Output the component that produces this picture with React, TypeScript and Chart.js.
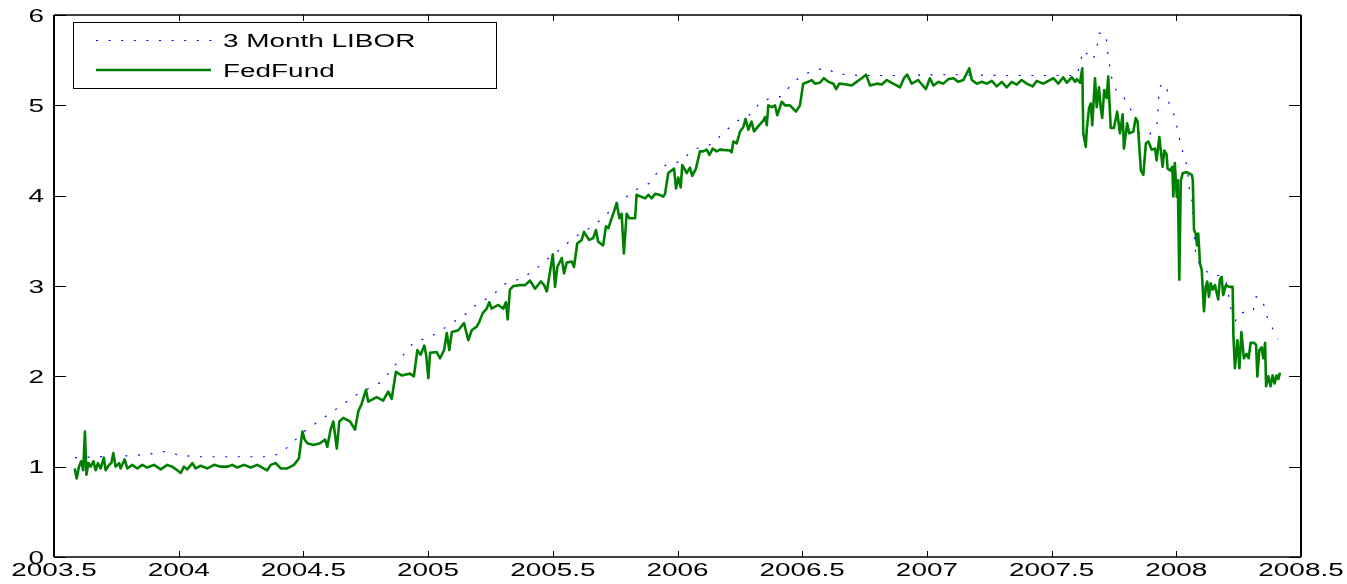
import React, { useEffect, useRef } from "react";
import { Chart, registerables } from "chart.js";

Chart.register(...registerables);

// ---------- data ----------
const seriesNames = ["3 Month LIBOR", "FedFund"];

const liborDates = [
  2003.584, 2003.684, 2003.805, 2003.885, 2003.925, 2003.949, 2003.997, 2004.065, 2004.206, 2004.346,
  2004.406, 2004.454, 2004.498, 2004.607, 2004.715, 2004.807, 2004.847, 2004.907, 2004.947, 2004.996,
  2005.036, 2005.096, 2005.156, 2005.196, 2005.256, 2005.304, 2005.381, 2005.437, 2005.489, 2005.541,
  2005.581, 2005.641, 2005.701, 2005.729, 2005.777, 2005.822, 2005.890, 2005.922, 2005.954, 2006.014,
  2006.062, 2006.138, 2006.182, 2006.235, 2006.299, 2006.335, 2006.419, 2006.459, 2006.503, 2006.571,
  2006.603, 2006.632, 2006.732, 2006.892, 2007.093, 2007.293, 2007.453, 2007.602, 2007.622, 2007.626,
  2007.646, 2007.666, 2007.682, 2007.690, 2007.718, 2007.726, 2007.738, 2007.758, 2007.782, 2007.814,
  2007.842, 2007.854, 2007.891, 2007.923, 2007.927, 2007.931, 2007.947, 2007.963, 2007.971, 2007.995,
  2008.011, 2008.027, 2008.043, 2008.051, 2008.063, 2008.071, 2008.079, 2008.103, 2008.147, 2008.175,
  2008.199, 2008.215, 2008.231, 2008.247, 2008.308, 2008.320, 2008.344, 2008.368, 2008.396, 2008.408,
];
const liborValues = [
  1.10, 1.11, 1.12, 1.14, 1.16, 1.17, 1.13, 1.11, 1.11, 1.11,
  1.14, 1.26, 1.38, 1.59, 1.80, 1.93, 2.05, 2.26, 2.39, 2.42,
  2.48, 2.59, 2.70, 2.80, 2.89, 3.02, 3.09, 3.20, 3.32, 3.43,
  3.53, 3.63, 3.75, 3.83, 3.94, 4.05, 4.14, 4.27, 4.34, 4.38,
  4.51, 4.57, 4.69, 4.82, 4.91, 5.05, 5.10, 5.24, 5.34, 5.40,
  5.41, 5.35, 5.33, 5.33, 5.34, 5.33, 5.33, 5.33, 5.55, 5.61,
  5.56, 5.50, 5.65, 5.80, 5.79, 5.56, 5.33, 5.17, 5.12, 4.98,
  4.76, 4.68, 4.67, 4.80, 4.96, 5.19, 5.25, 5.18, 5.02, 4.87,
  4.65, 4.47, 4.33, 4.10, 3.94, 3.59, 3.32, 3.20, 3.11, 3.12,
  3.06, 2.82, 2.55, 2.70, 2.72, 2.88, 2.86, 2.62, 2.48, 2.41,
];

const fedDates = [
  2003.583, 2003.591, 2003.600, 2003.609, 2003.617, 2003.624, 2003.630, 2003.638, 2003.647, 2003.658,
  2003.667, 2003.676, 2003.687, 2003.700, 2003.707, 2003.721, 2003.730, 2003.738, 2003.747, 2003.761,
  2003.767, 2003.783, 2003.794, 2003.814, 2003.834, 2003.854, 2003.874, 2003.901, 2003.928, 2003.954,
  2003.974, 2003.994, 2004.008, 2004.021, 2004.034, 2004.055, 2004.068, 2004.088, 2004.115, 2004.142,
  2004.168, 2004.195, 2004.215, 2004.235, 2004.262, 2004.289, 2004.315, 2004.335, 2004.355, 2004.369,
  2004.389, 2004.409, 2004.435, 2004.462, 2004.482, 2004.496, 2004.505, 2004.516, 2004.540, 2004.567,
  2004.587, 2004.596, 2004.609, 2004.620, 2004.634, 2004.644, 2004.660, 2004.687, 2004.707, 2004.720,
  2004.734, 2004.751, 2004.760, 2004.794, 2004.820, 2004.840, 2004.854, 2004.871, 2004.894, 2004.927,
  2004.943, 2004.957, 2004.970, 2004.985, 2004.992, 2005.001, 2005.008, 2005.034, 2005.048, 2005.064,
  2005.075, 2005.085, 2005.095, 2005.121, 2005.144, 2005.161, 2005.175, 2005.195, 2005.205, 2005.219,
  2005.235, 2005.245, 2005.255, 2005.281, 2005.302, 2005.312, 2005.319, 2005.328, 2005.342, 2005.368,
  2005.389, 2005.409, 2005.422, 2005.429, 2005.452, 2005.465, 2005.476, 2005.489, 2005.500, 2005.509,
  2005.518, 2005.536, 2005.545, 2005.556, 2005.576, 2005.585, 2005.598, 2005.616, 2005.625, 2005.636,
  2005.646, 2005.662, 2005.673, 2005.682, 2005.702, 2005.713, 2005.723, 2005.736, 2005.745, 2005.756,
  2005.767, 2005.776, 2005.785, 2005.796, 2005.807, 2005.830, 2005.836, 2005.852, 2005.870, 2005.883,
  2005.897, 2005.910, 2005.927, 2005.943, 2005.950, 2005.963, 2005.977, 2005.986, 2005.994, 2006.003,
  2006.013, 2006.019, 2006.037, 2006.050, 2006.059, 2006.074, 2006.090, 2006.103, 2006.117, 2006.128,
  2006.141, 2006.157, 2006.170, 2006.211, 2006.217, 2006.224, 2006.237, 2006.251, 2006.264, 2006.273,
  2006.284, 2006.297, 2006.307, 2006.324, 2006.344, 2006.351, 2006.358, 2006.364, 2006.378, 2006.391,
  2006.400, 2006.418, 2006.431, 2006.451, 2006.475, 2006.491, 2006.504, 2006.524, 2006.538, 2006.551,
  2006.571, 2006.587, 2006.605, 2006.625, 2006.636, 2006.649, 2006.678, 2006.698, 2006.718, 2006.739,
  2006.756, 2006.772, 2006.799, 2006.819, 2006.839, 2006.865, 2006.892, 2006.908, 2006.921, 2006.939,
  2006.965, 2006.983, 2006.996, 2007.012, 2007.026, 2007.046, 2007.066, 2007.086, 2007.106, 2007.126,
  2007.146, 2007.170, 2007.180, 2007.200, 2007.220, 2007.240, 2007.260, 2007.280, 2007.300, 2007.320,
  2007.340, 2007.360, 2007.380, 2007.400, 2007.424, 2007.440, 2007.467, 2007.487, 2007.507, 2007.527,
  2007.547, 2007.561, 2007.581, 2007.594, 2007.601, 2007.614, 2007.623, 2007.627, 2007.637, 2007.641,
  2007.650, 2007.657, 2007.663, 2007.674, 2007.681, 2007.690, 2007.697, 2007.703, 2007.711, 2007.721,
  2007.727, 2007.737, 2007.750, 2007.763, 2007.774, 2007.785, 2007.790, 2007.803, 2007.811, 2007.828,
  2007.837, 2007.845, 2007.858, 2007.868, 2007.878, 2007.888, 2007.901, 2007.915, 2007.921, 2007.932,
  2007.945, 2007.952, 2007.961, 2007.965, 2007.975, 2007.984, 2007.988, 2007.994, 2008.002, 2008.006,
  2008.012, 2008.018, 2008.026, 2008.042, 2008.062, 2008.066, 2008.071, 2008.078, 2008.083, 2008.088,
  2008.095, 2008.102, 2008.111, 2008.118, 2008.124, 2008.131, 2008.138, 2008.146, 2008.155, 2008.168,
  2008.175, 2008.182, 2008.188, 2008.199, 2008.212, 2008.226, 2008.229, 2008.235, 2008.245, 2008.253,
  2008.261, 2008.271, 2008.282, 2008.290, 2008.298, 2008.312, 2008.320, 2008.325, 2008.333, 2008.342,
  2008.349, 2008.356, 2008.360, 2008.369, 2008.378, 2008.386, 2008.394, 2008.402, 2008.409, 2008.416,
];
const fedValues = [
  0.98, 0.87, 1.00, 1.06, 0.96, 1.39, 0.91, 1.04, 1.00, 1.06,
  0.96, 1.04, 0.98, 1.10, 0.96, 1.02, 1.04, 1.15, 1.00, 1.04,
  0.98, 1.08, 0.98, 1.02, 0.98, 1.02, 0.99, 1.02, 0.97, 1.02,
  1.00, 0.96, 0.93, 1.00, 0.97, 1.04, 0.98, 1.01, 0.98, 1.02,
  1.00, 1.00, 1.02, 0.99, 1.02, 0.99, 1.02, 0.99, 0.96, 1.02,
  1.04, 0.98, 0.98, 1.02, 1.09, 1.39, 1.30, 1.26, 1.24, 1.26,
  1.30, 1.22, 1.41, 1.50, 1.20, 1.50, 1.54, 1.50, 1.41, 1.61,
  1.70, 1.85, 1.72, 1.77, 1.73, 1.83, 1.75, 2.05, 2.01, 2.03,
  2.00, 2.29, 2.24, 2.34, 2.24, 1.98, 2.26, 2.27, 2.20, 2.29,
  2.48, 2.29, 2.49, 2.51, 2.59, 2.40, 2.51, 2.55, 2.60, 2.70,
  2.75, 2.82, 2.75, 2.79, 2.75, 2.82, 2.63, 2.96, 3.00, 3.01,
  3.01, 3.06, 3.00, 2.97, 3.05, 3.01, 2.94, 3.16, 3.35, 2.99,
  3.21, 3.31, 3.14, 3.26, 3.27, 3.21, 3.47, 3.51, 3.60, 3.55,
  3.51, 3.53, 3.62, 3.49, 3.45, 3.66, 3.64, 3.75, 3.82, 3.92,
  3.75, 3.80, 3.36, 3.80, 3.75, 3.75, 4.01, 3.99, 3.97, 4.01,
  3.97, 4.02, 4.01, 3.99, 4.02, 4.25, 4.28, 4.30, 4.08, 4.20,
  4.09, 4.34, 4.25, 4.31, 4.22, 4.30, 4.49, 4.49, 4.51, 4.45,
  4.52, 4.49, 4.51, 4.50, 4.48, 4.60, 4.58, 4.71, 4.76, 4.85,
  4.73, 4.82, 4.71, 4.77, 4.83, 4.87, 4.78, 5.00, 4.98, 5.00,
  4.89, 5.04, 5.00, 5.00, 4.93, 5.00, 5.24, 5.26, 5.28, 5.24,
  5.25, 5.30, 5.26, 5.24, 5.18, 5.24, 5.23, 5.22, 5.26, 5.30,
  5.34, 5.22, 5.24, 5.23, 5.28, 5.24, 5.20, 5.30, 5.34, 5.24,
  5.28, 5.22, 5.18, 5.30, 5.22, 5.26, 5.24, 5.29, 5.30, 5.26,
  5.28, 5.41, 5.28, 5.24, 5.26, 5.24, 5.27, 5.21, 5.26, 5.20,
  5.26, 5.23, 5.28, 5.24, 5.21, 5.27, 5.24, 5.27, 5.30, 5.24,
  5.31, 5.25, 5.31, 5.26, 5.29, 5.25, 5.41, 4.69, 4.54, 4.73,
  4.97, 5.02, 4.78, 5.30, 4.98, 5.20, 4.97, 4.86, 5.17, 5.08,
  5.32, 4.75, 4.75, 4.93, 4.69, 4.90, 4.52, 4.80, 4.69, 4.71,
  4.86, 4.82, 4.28, 4.23, 4.58, 4.60, 4.51, 4.52, 4.39, 4.65,
  4.32, 4.50, 4.46, 4.30, 4.28, 4.32, 3.99, 4.36, 3.99, 4.17,
  3.07, 4.17, 4.25, 4.26, 4.23, 4.18, 3.62, 3.58, 3.45, 3.58,
  3.25, 3.18, 2.72, 2.99, 3.05, 2.88, 3.03, 2.96, 3.01, 2.85,
  3.07, 3.10, 2.90, 3.01, 2.99, 2.99, 2.44, 2.09, 2.40, 2.09,
  2.49, 2.20, 2.25, 2.20, 2.37, 2.37, 2.35, 2.00, 2.29, 2.32,
  2.20, 2.37, 1.89, 2.00, 1.89, 2.01, 1.92, 2.01, 1.97, 2.04,
];

const xTicks = [2003.5, 2004, 2004.5, 2005, 2005.5, 2006, 2006.5, 2007, 2007.5, 2008, 2008.5];
const xTickLabels = ["2003.5", "2004", "2004.5", "2005", "2005.5", "2006", "2006.5", "2007", "2007.5", "2008", "2008.5"];
const yTicks = [0, 1, 2, 3, 4, 5, 6];
const yTickLabels = ["0", "1", "2", "3", "4", "5", "6"];

// ---------- styling ----------
const W = 1347;
const H = 584;
const FONT = '18px "Liberation Sans", Arial, Helvetica, sans-serif';
const SX = 1.55; // horizontal stretch of text
const GREEN = "#008000";
const BLUE = "#0000ff";

function stretchedText(
  ctx: CanvasRenderingContext2D,
  text: string,
  x: number,
  y: number,
  align: "left" | "center" | "right"
) {
  const w = ctx.measureText(text).width * SX;
  const left = align === "left" ? x : align === "center" ? x - w / 2 : x - w;
  ctx.save();
  ctx.translate(left, y);
  ctx.scale(SX, 1);
  ctx.textAlign = "left";
  ctx.textBaseline = "alphabetic";
  ctx.fillText(text, 0, 0);
  ctx.restore();
}

const matlabAxes = {
  id: "matlabAxes",
  afterDraw(chart: any) {
    const ctx: CanvasRenderingContext2D = chart.ctx;
    const { left, right, top, bottom } = chart.chartArea;
    const xs = chart.scales.x;
    const ys = chart.scales.y;
    ctx.save();
    ctx.strokeStyle = "#000";
    ctx.fillStyle = "#000";

    // box
    ctx.lineWidth = 1.4;
    ctx.beginPath();
    ctx.moveTo(left, top);
    ctx.lineTo(right, top);
    ctx.moveTo(left, bottom);
    ctx.lineTo(right, bottom);
    ctx.stroke();
    ctx.lineWidth = 2;
    ctx.beginPath();
    ctx.moveTo(left, top);
    ctx.lineTo(left, bottom);
    ctx.moveTo(right, top);
    ctx.lineTo(right, bottom);
    ctx.stroke();

    // inward ticks
    ctx.lineWidth = 1;
    ctx.beginPath();
    xTicks.forEach((t) => {
      const px = Math.round(xs.getPixelForValue(t)) + 0.5;
      ctx.moveTo(px, bottom);
      ctx.lineTo(px, bottom - 6);
      ctx.moveTo(px, top);
      ctx.lineTo(px, top + 6);
    });
    yTicks.forEach((t) => {
      const py = Math.round(ys.getPixelForValue(t)) + 0.5;
      ctx.moveTo(left, py);
      ctx.lineTo(left + 12, py);
      ctx.moveTo(right, py);
      ctx.lineTo(right - 12, py);
    });
    ctx.stroke();

    // tick labels
    ctx.font = FONT;
    xTicks.forEach((t, i) => {
      stretchedText(ctx, xTickLabels[i], xs.getPixelForValue(t), bottom + 19, "center");
    });
    yTicks.forEach((t, i) => {
      stretchedText(ctx, yTickLabels[i], left - 10, ys.getPixelForValue(t) + 6.5, "right");
    });

    // legend
    const lx = 73;
    const ly = 22;
    const lw = 423;
    const lh = 66;
    ctx.fillStyle = "#fff";
    ctx.fillRect(lx, ly, lw, lh);
    ctx.strokeStyle = "#000";
    ctx.lineWidth = 1;
    ctx.strokeRect(lx + 0.5, ly + 0.5, lw, lh);

    ctx.strokeStyle = BLUE;
    ctx.lineWidth = 1.2;
    ctx.setLineDash([2, 10.6]);
    ctx.beginPath();
    ctx.moveTo(96, 40.5);
    ctx.lineTo(212, 40.5);
    ctx.stroke();
    ctx.setLineDash([]);

    ctx.strokeStyle = GREEN;
    ctx.lineWidth = 2.5;
    ctx.beginPath();
    ctx.moveTo(96, 70);
    ctx.lineTo(211, 70);
    ctx.stroke();

    ctx.fillStyle = "#000";
    ctx.font = FONT;
    stretchedText(ctx, seriesNames[0], 223, 46.5, "left");
    stretchedText(ctx, seriesNames[1], 223, 76.5, "left");

    ctx.restore();
  },
};

export default function App() {
  const canvasRef = useRef<HTMLCanvasElement | null>(null);

  useEffect(() => {
    const canvas = canvasRef.current;
    if (!canvas) return;
    const libor = liborDates.map((d, i) => ({ x: d, y: liborValues[i] }));
    const fed = fedDates.map((d, i) => ({ x: d, y: fedValues[i] }));
    const chart = new Chart(canvas, {
      type: "line",
      data: {
        datasets: [
          {
            label: seriesNames[0],
            data: libor,
            borderColor: BLUE,
            borderWidth: 1.2,
            borderDash: [2, 10.6],
            pointRadius: 0,
            fill: false,
            tension: 0,
            order: 1,
          },
          {
            label: seriesNames[1],
            data: fed,
            borderColor: GREEN,
            borderWidth: 2.6,
            pointRadius: 0,
            fill: false,
            tension: 0,
            borderJoinStyle: "round",
            order: 0,
          },
        ],
      },
      options: {
        responsive: false,
        animation: false,
        devicePixelRatio: 1,
        events: [],
        layout: { padding: { left: 54, right: 46, top: 15, bottom: 27 } },
        scales: {
          x: { type: "linear", min: 2003.5, max: 2008.5, display: false },
          y: { type: "linear", min: 0, max: 6, display: false },
        },
        plugins: {
          legend: { display: false },
          tooltip: { enabled: false },
        },
      },
      plugins: [matlabAxes],
    } as any);
    return () => chart.destroy();
  }, []);

  return (
    <div style={{ position: "fixed", left: 0, top: 0, width: W, height: H, background: "#fff" }}>
      <canvas ref={canvasRef} width={W} height={H} style={{ display: "block", width: W, height: H }} />
    </div>
  );
}
